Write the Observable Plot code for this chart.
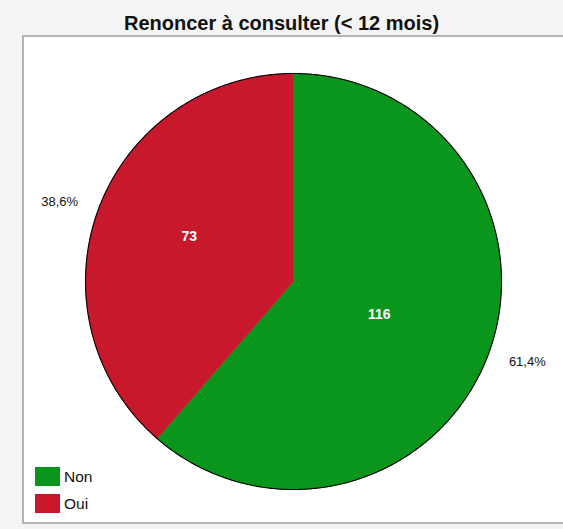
<!DOCTYPE html>
<html>
<head>
<meta charset="utf-8">
<script src="https://cdn.jsdelivr.net/npm/d3@7"></script>
<script src="https://cdn.jsdelivr.net/npm/@observablehq/plot@0.6"></script>
<style>
  html, body { margin: 0; padding: 0; background: #f4f4f4; width: 563px; height: 529px; overflow: hidden; font-family: "Liberation Sans", Arial, sans-serif; }
  #title { position: absolute; left: 0; top: 0; width: 563px; text-align: center; font-weight: bold; font-size: 20px; line-height: 20px; padding-top: 13px; color: #111; }
  #frame { position: absolute; left: 22px; top: 35px; width: 600px; height: 485px; background: #fff; border: 2px solid #b3b3b3; border-right: none; }
  #chart { position: absolute; left: 0; top: 0; }
  #legend { position: absolute; left: 11px; top: 426px; font-size: 15.5px; color: #111; }
  .item { display: flex; align-items: center; height: 27px; }
  .sw { width: 25px; height: 19px; margin-right: 4px; }
</style>
</head>
<body>
<div id="title">Renoncer à consulter (&lt; 12 mois)</div>
<div id="frame"><div id="chart"></div><div id="legend"></div></div>
<script>
const categories = ["Non", "Oui"];
const values = [116, 73];
const colors = ["#0a961c", "#c8182b"];

const total = d3.sum(values);
const W = 539, H = 485, R = 208, CX = 269, CY = 244;
const labelFx = [0.44, 0.535], labelFy = [0.455, 0.62];
const pctFx = 1.2, pctFy = 1.1;

// build slice polygons from the data (angles clockwise from 12 o'clock)
const slices = [];
const labels = [];
let start = 0;
categories.forEach((c, i) => {
  const span = values[i] / total * 2 * Math.PI;
  const end = start + span;
  slices.push({cat: c, x: 0, y: 0});
  const n = Math.max(2, Math.ceil(span / (Math.PI / 360)));
  for (let k = 0; k <= n; k++) {
    const a = start + span * k / n;
    slices.push({cat: c, x: Math.sin(a), y: Math.cos(a)});
  }
  slices.push({cat: c, x: 0, y: 0});
  const mid = (start + end) / 2;
  labels.push({
    cat: c, value: values[i],
    pct: (values[i] / total * 100).toFixed(1).replace(".", ",") + "%",
    vx: labelFx[i] * Math.sin(mid), vy: labelFy[i] * Math.cos(mid),
    px: pctFx * Math.sin(mid), py: pctFy * Math.cos(mid)
  });
  start = end;
});
const circle = d3.range(0, 721).map(k => ({x: Math.sin(k / 720 * 2 * Math.PI), y: Math.cos(k / 720 * 2 * Math.PI)}));

const plot = Plot.plot({
  width: W, height: H, margin: 0,
  style: {background: "transparent", fontFamily: "Liberation Sans, Arial, sans-serif"},
  x: {domain: [-CX / R, (W - CX) / R], range: [0, W], axis: null},
  y: {domain: [-(H - CY) / R, CY / R], range: [H, 0], axis: null},
  color: {domain: categories, range: colors},
  marks: [
    Plot.line(slices, {x: "x", y: "y", z: "cat", fill: "cat", stroke: "cat", strokeWidth: 0.5, curve: "linear"}),
    Plot.line(circle, {x: "x", y: "y", stroke: "#000", strokeWidth: 1.1, curve: "linear"}),
    Plot.text(labels, {x: "vx", y: "vy", text: d => String(d.value), fill: "#fff", fontWeight: "bold", fontSize: 14}),
    Plot.text(labels, {x: "px", y: "py", text: "pct", fill: "#111", fontSize: 13})
  ]
});
document.getElementById("chart").appendChild(plot);

const legend = document.getElementById("legend");
categories.forEach((c, i) => {
  const it = document.createElement("div");
  it.className = "item";
  it.innerHTML = `<div class="sw" style="background:${colors[i]}"></div><span>${c}</span>`;
  legend.appendChild(it);
});
</script>
</body>
</html>
